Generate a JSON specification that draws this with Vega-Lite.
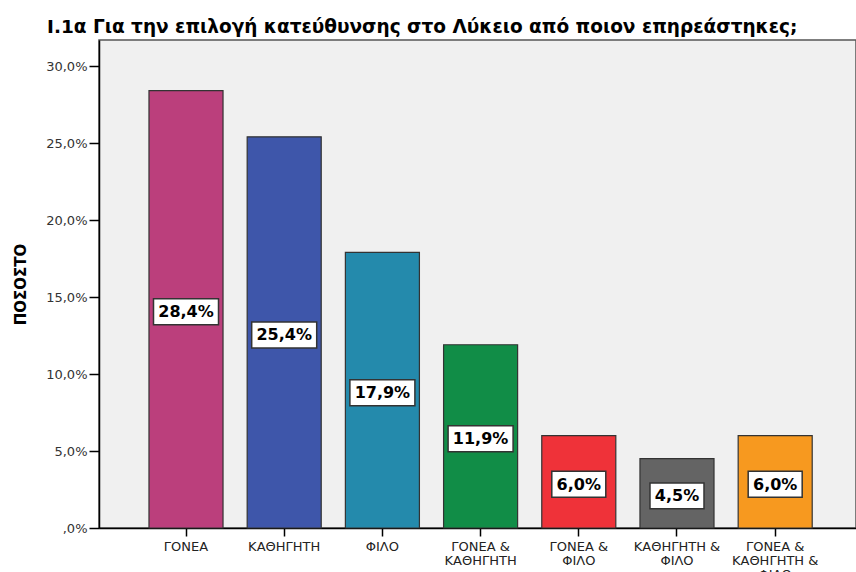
{
  "$schema": "https://vega.github.io/schema/vega-lite/v6.json",
  "autosize": {"type": "none"},
  "width": 757,
  "height": 488,
  "padding": {"left": 99, "top": 40, "right": 0, "bottom": 44},
  "background": "white",
  "title": {
    "text": "I.1α Για την επιλογή κατεύθυνσης στο Λύκειο από ποιον  επηρεάστηκες;",
    "anchor": "start",
    "frame": "group",
    "dx": -52,
    "offset": 4,
    "font": "DejaVu Sans",
    "fontSize": 18.5,
    "fontWeight": "bold",
    "color": "black"
  },
  "config": {
    "view": {"fill": "#f0f0f0", "stroke": "#555555", "strokeWidth": 1.5},
    "locale": {
      "number": {"decimal": ",", "thousands": ".", "grouping": [3], "currency": ["", " €"]}
    }
  },
  "data": {
    "values": [
      {"cat": "ΓΟΝΕΑ", "v": 0.284},
      {"cat": "ΚΑΘΗΓΗΤΗ", "v": 0.254},
      {"cat": "ΦΙΛΟ", "v": 0.179},
      {"cat": "ΓΟΝΕΑ & ΚΑΘΗΓΗΤΗ", "v": 0.119},
      {"cat": "ΓΟΝΕΑ & ΦΙΛΟ", "v": 0.06},
      {"cat": "ΚΑΘΗΓΗΤΗ & ΦΙΛΟ", "v": 0.045},
      {"cat": "ΓΟΝΕΑ & ΚΑΘΗΓΗΤΗ & ΦΙΛΟ", "v": 0.06}
    ]
  },
  "encoding": {
    "x": {
      "field": "cat",
      "type": "nominal",
      "sort": null,
      "scale": {"paddingInner": 0.246, "paddingOuter": 0.4775, "align": 0.533},
      "axis": {
        "title": null,
        "labelAngle": 0,
        "tickSize": 8,
        "tickColor": "black",
        "tickWidth": 1.5,
        "domainColor": "black",
        "domainWidth": 1.5,
        "labelFont": "DejaVu Sans",
        "labelFontSize": 13,
        "labelColor": "#222222",
        "labelPadding": 4,
        "labelBaseline": "top",
        "labelLineHeight": 14,
        "labelExpr": "datum.label == 'ΓΟΝΕΑ & ΚΑΘΗΓΗΤΗ' ? ['ΓΟΝΕΑ &', 'ΚΑΘΗΓΗΤΗ'] : datum.label == 'ΓΟΝΕΑ & ΦΙΛΟ' ? ['ΓΟΝΕΑ &', 'ΦΙΛΟ'] : datum.label == 'ΚΑΘΗΓΗΤΗ & ΦΙΛΟ' ? ['ΚΑΘΗΓΗΤΗ &', 'ΦΙΛΟ'] : datum.label == 'ΓΟΝΕΑ & ΚΑΘΗΓΗΤΗ & ΦΙΛΟ' ? ['ΓΟΝΕΑ &', 'ΚΑΘΗΓΗΤΗ &', 'ΦΙΛΟ'] : datum.label"
      }
    }
  },
  "layer": [
    {
      "mark": {"type": "bar", "stroke": "#333333", "strokeWidth": 1.2},
      "encoding": {
        "y": {
          "field": "v",
          "type": "quantitative",
          "scale": {"domain": [0, 0.3169], "nice": false},
          "axis": {
            "title": "ΠΟΣΟΣΤΟ",
            "titleFont": "DejaVu Sans",
            "titleFontSize": 15,
            "titleFontWeight": "bold",
            "titleColor": "black",
            "titlePadding": 17,
            "values": [0, 0.05, 0.1, 0.15, 0.2, 0.25, 0.3],
            "format": ".1%",
            "labelExpr": "datum.value == 0 ? ',0%' : datum.label",
            "labelFont": "DejaVu Sans",
            "labelFontSize": 13,
            "labelColor": "#333333",
            "labelPadding": 2,
            "tickSize": 10,
            "tickColor": "black",
            "tickWidth": 1.5,
            "domainColor": "black",
            "domainWidth": 1.5,
            "grid": false
          }
        },
        "color": {
          "field": "cat",
          "type": "nominal",
          "legend": null,
          "scale": {
            "domain": ["ΓΟΝΕΑ", "ΚΑΘΗΓΗΤΗ", "ΦΙΛΟ", "ΓΟΝΕΑ & ΚΑΘΗΓΗΤΗ", "ΓΟΝΕΑ & ΦΙΛΟ", "ΚΑΘΗΓΗΤΗ & ΦΙΛΟ", "ΓΟΝΕΑ & ΚΑΘΗΓΗΤΗ & ΦΙΛΟ"],
            "range": ["#bb3f7c", "#3e56aa", "#248aac", "#118d47", "#ef3239", "#646464", "#f7991f"]
          }
        }
      }
    },
    {
      "transform": [{"filter": "datum.v >= 0.1"}],
      "mark": {
        "type": "point",
        "shape": "M-1,-0.4L1,-0.4L1,0.4L-1,0.4Z",
        "filled": true,
        "fill": "white",
        "stroke": "#333333",
        "strokeWidth": 1.5,
        "opacity": 1,
        "size": 4225,
        "yOffset": 2.5
      },
      "encoding": {
        "y": {"field": "v", "type": "quantitative", "scale": {"domain": [0, 0.6338], "nice": false}, "axis": null}
      }
    },
    {
      "transform": [{"filter": "datum.v < 0.1"}],
      "mark": {
        "type": "point",
        "shape": "M-1,-0.48L1,-0.48L1,0.48L-1,0.48Z",
        "filled": true,
        "fill": "white",
        "stroke": "#333333",
        "strokeWidth": 1.5,
        "opacity": 1,
        "size": 2916,
        "yOffset": 2.5
      },
      "encoding": {
        "y": {"field": "v", "type": "quantitative", "scale": {"domain": [0, 0.6338], "nice": false}, "axis": null}
      }
    },
    {
      "mark": {
        "type": "text",
        "font": "DejaVu Sans",
        "fontSize": 16,
        "fontWeight": "bold",
        "color": "black",
        "baseline": "middle",
        "yOffset": 3
      },
      "encoding": {
        "y": {"field": "v", "type": "quantitative", "scale": {"domain": [0, 0.6338], "nice": false}, "axis": null},
        "text": {"field": "v", "type": "quantitative", "format": ".1%"}
      }
    }
  ],
  "resolve": {"scale": {"y": "independent", "color": "independent"}}
}
